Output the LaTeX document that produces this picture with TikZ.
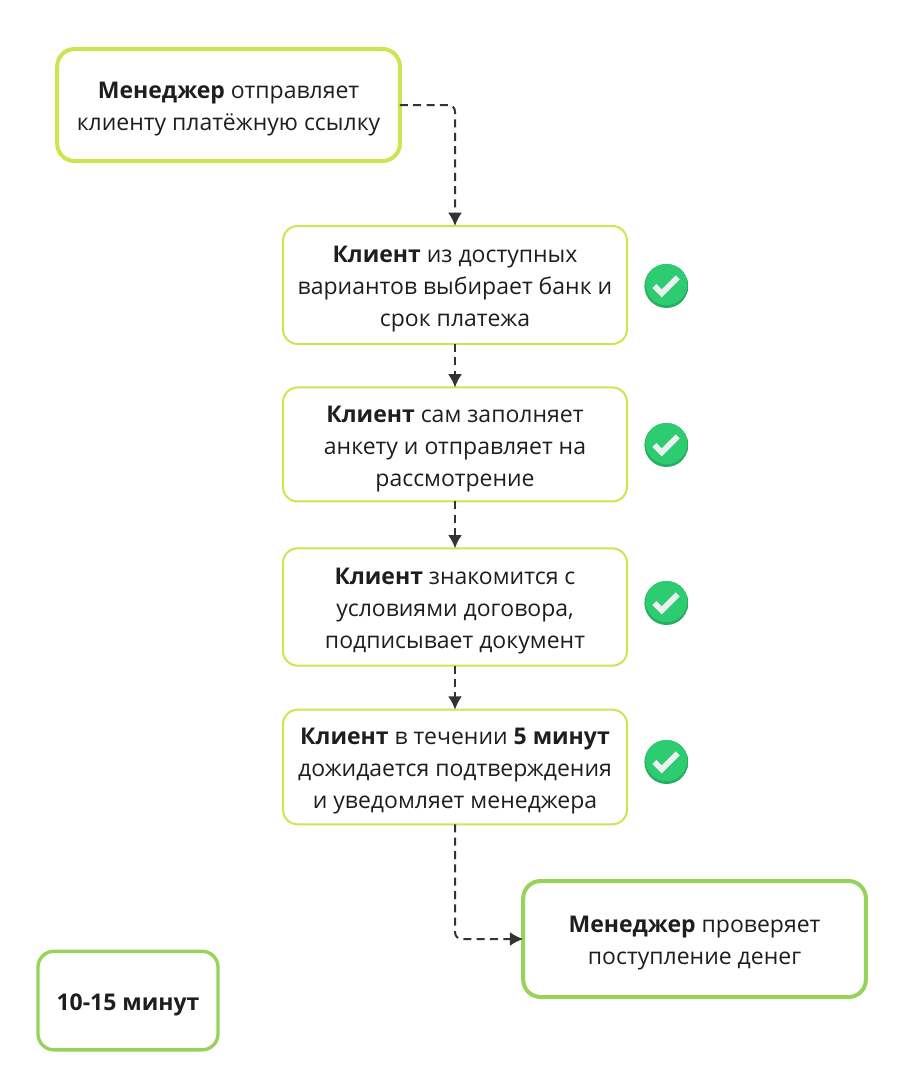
\documentclass[tikz,border=0pt]{standalone}
\usepackage{fontspec}
\setmainfont{Open Sans}
\usetikzlibrary{positioning,arrows,arrows.meta,calc}
\definecolor{limeline}{HTML}{CDE54F}
\definecolor{greenline}{HTML}{95D35A}
\definecolor{badgegreen}{HTML}{2ECC71}
\definecolor{badgedark}{HTML}{27AE60}
\definecolor{checkwhite}{HTML}{ECF0F1}
\definecolor{inkline}{HTML}{333333}
\definecolor{inktext}{HTML}{1E1E1E}
\tikzset{
    on grid,
    node distance=119.6pt,
    box/.style = {
        draw,
        shape=rectangle,
        rounded corners=13pt,
        text width=250pt,
        align=flush center,
        outer sep=0pt,
        inner sep=0pt,
        text=inktext,
        font=\fontsize{17.25}{24}\selectfont,
        execute at begin node={\rule{0pt}{18.5pt}}
    },
    manager/.style = {
        box,
        draw=limeline,
        minimum width=257pt,
        minimum height=84pt,
        line width=3pt
    },
    clientstep/.style = {
        box,
        draw=limeline,
        rounded corners=11pt,
        minimum width=258pt,
        line width=1.5pt
    },
    finalbox/.style = {
        box,
        draw=greenline,
        line width=3pt
    },
    badge/.style = {
        shape=circle,
        minimum size=33pt,
        inner sep=0pt,
        outer sep=0pt,
        path picture={
            \fill[badgedark] (path picture bounding box.center) circle (16.5pt);
            \fill[badgegreen] ($(path picture bounding box.center)+(0,1.2pt)$) circle (15.6pt);
            \draw[checkwhite, line width=4.2pt]
                ($(path picture bounding box.center)+(-9pt,0pt)$) -- ++(5.5pt,-5.5pt) -- ++(12pt,12pt);
        }
    },
    flow/.style = {
        draw,
        -{Latex[length=10pt,width=10.5pt]},
        inkline,
        line width=1.5pt,
        dash pattern=on 6pt off 4pt,
        rounded corners=5pt
    },
}
\begin{document}
\begin{tikzpicture}
    \useasboundingbox (0,0) rectangle (693pt,-810.75pt);

    \node[manager] (send) at (171.4pt,-78.75pt) {\textbf{Менеджер} отправляет\\клиенту платёжную ссылку};

    \node[clientstep, minimum height=88.5pt] (choose) at (341.25pt,-213.75pt) {\textbf{Клиент} из доступных\\вариантов выбирает банк и\\срок платежа};
    \node[clientstep, minimum height=85.5pt, below of=choose] (fill) {\textbf{Клиент} сам заполняет\\анкету и отправляет на\\рассмотрение};
    \node[clientstep, minimum height=88pt, below of=fill, node distance=121.9pt] (sign) {\textbf{Клиент} знакомится с\\условиями договора,\\подписывает документ};
    \node[clientstep, minimum height=86pt, below of=sign, node distance=120pt] (wait) {\textbf{Клиент} в течении \textbf{5 минут}\\дожидается подтверждения\\и уведомляет менеджера};

    \node[finalbox, rounded corners=13pt, minimum width=257pt, minimum height=87pt] (check) at (520.9pt,-704.25pt) {\textbf{Менеджер} проверяет\\поступление денег};
    \node[finalbox, rounded corners=12pt, line width=2.5pt, text width=130pt, minimum width=135pt, minimum height=74pt] (total) at (96pt,-750.4pt) {\textbf{10-15 минут}};

    \node[badge] (okchoose) at (499.8pt,-214.5pt) {};
    \node[badge] (okfill) at (499.8pt,-333.75pt) {};
    \node[badge] (oksign) at (499.8pt,-452.25pt) {};
    \node[badge] (okwait) at (499.8pt,-571.5pt) {};

    \path[flow] (send.east) -| (choose.north);
    \path[flow] (choose) -- (fill);
    \path[flow] (fill) -- (sign);
    \path[flow] (sign) -- (wait);
    \path[flow] (wait.south) |- (check.west);
\end{tikzpicture}
\end{document}
